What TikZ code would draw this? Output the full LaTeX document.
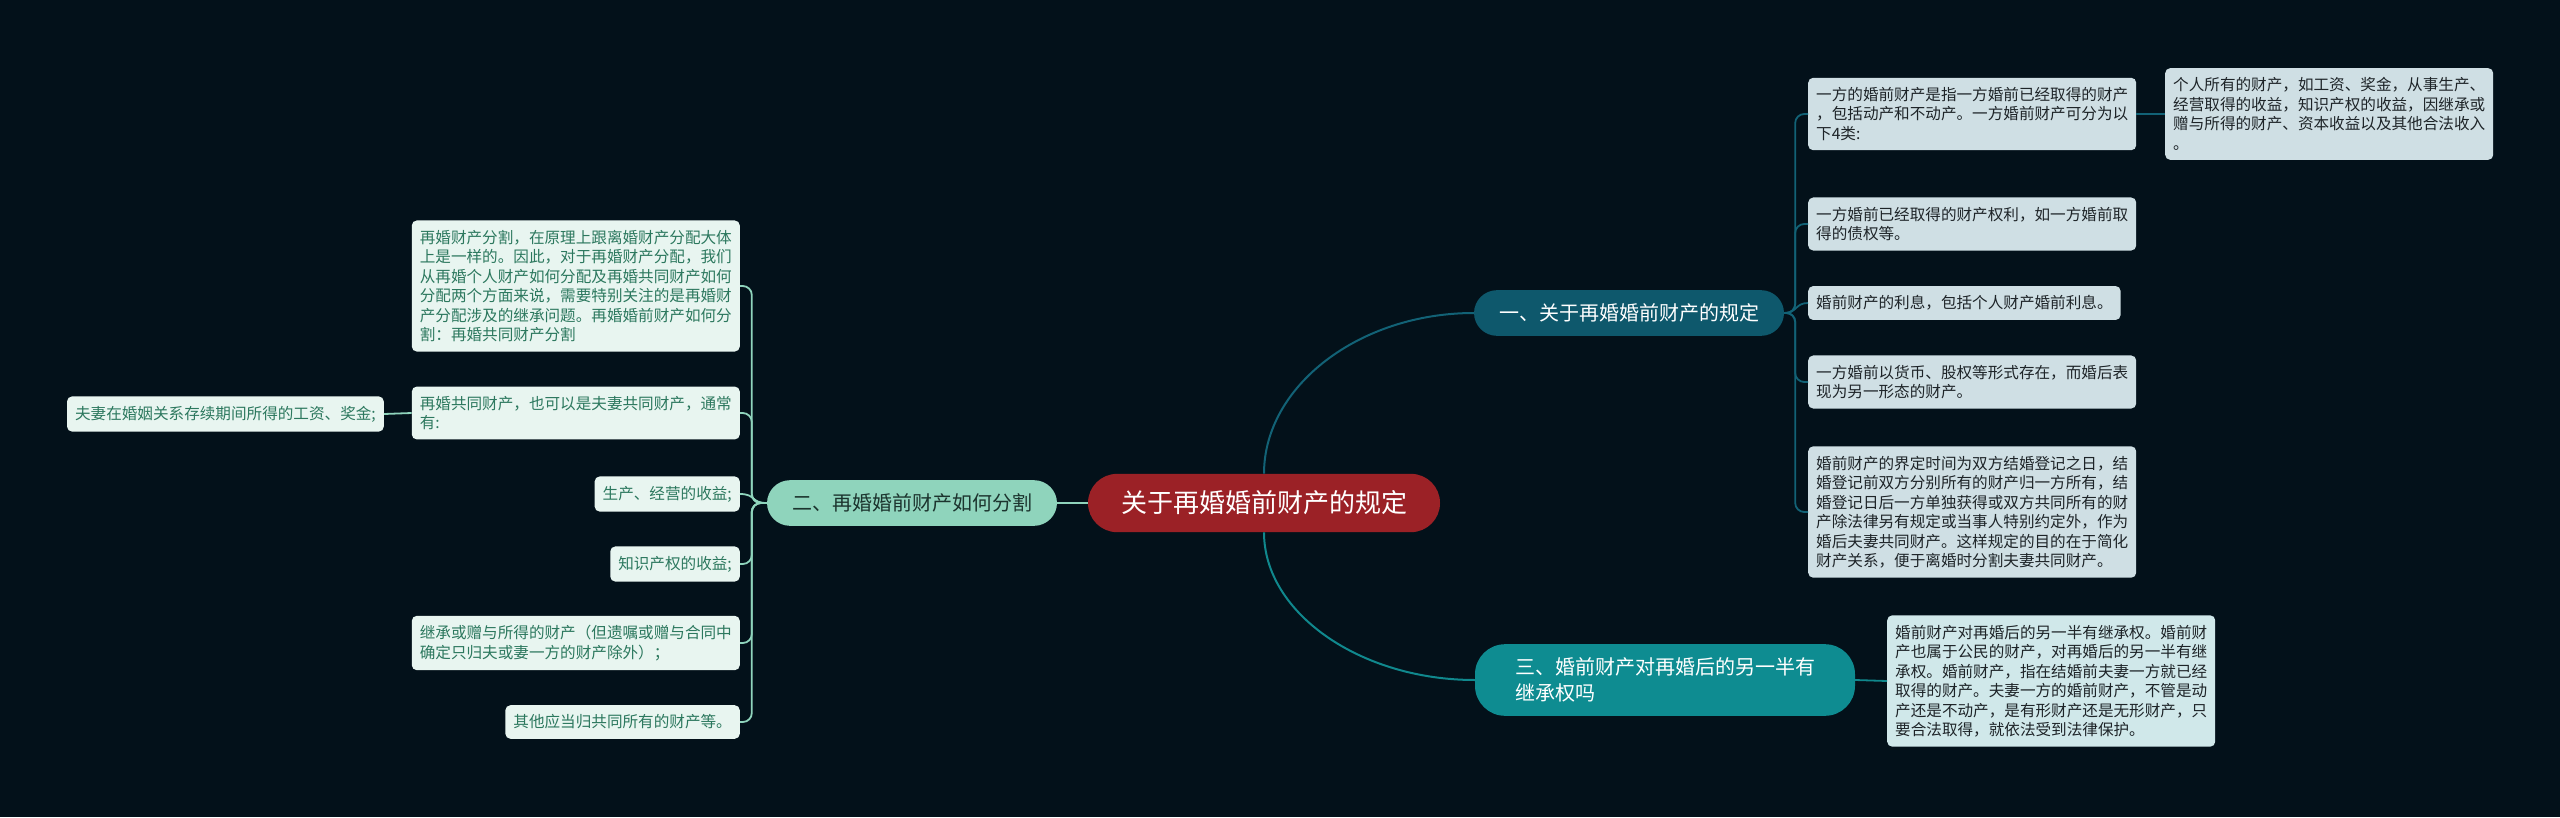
\documentclass[tikz,border=0pt]{standalone}
\usepackage{fontspec}
\newfontfamily\cjk{Noto Sans CJK SC}
\usepackage{tikz}
\usetikzlibrary{calc}
\definecolor{mapbg}{RGB}{3,17,26}
\definecolor{maproot}{RGB}{155,33,38}
\definecolor{topicone}{RGB}{14,88,108}
\definecolor{topictwo}{RGB}{143,212,188}
\definecolor{topictwotext}{RGB}{28,52,46}
\definecolor{topicthree}{RGB}{14,140,145}
\definecolor{leafblue}{RGB}{207,223,228}
\definecolor{leafcyan}{RGB}{208,232,234}
\definecolor{leafdark}{RGB}{30,36,40}
\definecolor{leafmint}{RGB}{232,245,240}
\definecolor{leafgreen}{RGB}{44,120,94}
\definecolor{lineone}{RGB}{18,98,118}
\definecolor{linethree}{RGB}{16,136,141}
\tikzset{
    rootnode/.style={rectangle, rounded corners=29pt, fill=maproot, text=white, font=\cjk\fontsize{26}{30}\selectfont, inner xsep=33pt, inner ysep=17pt},
    topic/.style={rectangle, rounded corners=23pt, font=\cjk\fontsize{20}{26}\selectfont, inner xsep=25pt, inner ysep=13.5pt, align=left},
    rightleaf/.style={rectangle, rounded corners=5pt, fill=leafblue, text=leafdark, font=\cjk\fontsize{15.6}{19.5}\selectfont, inner xsep=8pt, inner ysep=9.5pt, align=left, anchor=west},
    leftleaf/.style={rectangle, rounded corners=5pt, fill=leafmint, text=leafgreen, font=\cjk\fontsize{15.6}{19.5}\selectfont, inner xsep=8pt, inner ysep=9.5pt, align=left, anchor=east},
    link/.style={line width=2pt},
    leaflink/.style={line width=1.8pt, rounded corners=9pt}
}

\begin{document}
\begin{tikzpicture}[x=1pt, y=1pt]
    % Background
    \fill[mapbg] (0,0) rectangle (2560,-817);

    % Central topic
    \node[rootnode] (root) at (1264,-503) {关于再婚婚前财产的规定};

    % Main topics
    \node[topic, fill=topicone, text=white] (one) at (1629,-313) {一、关于再婚婚前财产的规定};
    \node[topic, fill=topictwo, text=topictwotext] (two) at (912,-503) {二、再婚婚前财产如何分割};
    \node[topic, fill=topicthree, text=white, rounded corners=30pt, inner xsep=40pt] (three) at (1665,-680) {三、婚前财产对再婚后的另一半有\\继承权吗};

    % Leaves of topic one
    \node[rightleaf] (onea) at (1808,-114) {一方的婚前财产是指一方婚前已经取得的财产\\，包括动产和不动产。一方婚前财产可分为以\\下4类:};
    \node[rightleaf] (oneaa) at (2165,-114) {个人所有的财产，如工资、奖金，从事生产、\\经营取得的收益，知识产权的收益，因继承或\\赠与所得的财产、资本收益以及其他合法收入\\。};
    \node[rightleaf] (oneb) at (1808,-224) {一方婚前已经取得的财产权利，如一方婚前取\\得的债权等。};
    \node[rightleaf] (onec) at (1808,-303) {婚前财产的利息，包括个人财产婚前利息。};
    \node[rightleaf] (oned) at (1808,-382) {一方婚前以货币、股权等形式存在，而婚后表\\现为另一形态的财产。};
    \node[rightleaf] (onee) at (1808,-512) {婚前财产的界定时间为双方结婚登记之日，结\\婚登记前双方分别所有的财产归一方所有，结\\婚登记日后一方单独获得或双方共同所有的财\\产除法律另有规定或当事人特别约定外，作为\\婚后夫妻共同财产。这样规定的目的在于简化\\财产关系，便于离婚时分割夫妻共同财产。};

    % Leaf of topic three
    \node[rightleaf, fill=leafcyan] (threea) at (1887,-681) {婚前财产对再婚后的另一半有继承权。婚前财\\产也属于公民的财产，对再婚后的另一半有继\\承权。婚前财产，指在结婚前夫妻一方就已经\\取得的财产。夫妻一方的婚前财产，不管是动\\产还是不动产，是有形财产还是无形财产，只\\要合法取得，就依法受到法律保护。};

    % Leaves of topic two
    \node[leftleaf] (twoa) at (740,-286) {再婚财产分割，在原理上跟离婚财产分配大体\\上是一样的。因此，对于再婚财产分配，我们\\从再婚个人财产如何分配及再婚共同财产如何\\分配两个方面来说，需要特别关注的是再婚财\\产分配涉及的继承问题。再婚婚前财产如何分\\割：再婚共同财产分割};
    \node[leftleaf] (twob) at (740,-413) {再婚共同财产，也可以是夫妻共同财产，通常\\有:};
    \node[leftleaf] (twoba) at (384,-414) {夫妻在婚姻关系存续期间所得的工资、奖金;};
    \node[leftleaf] (twoc) at (740,-494) {生产、经营的收益;};
    \node[leftleaf] (twod) at (740,-564) {知识产权的收益;};
    \node[leftleaf] (twoe) at (740,-643) {继承或赠与所得的财产（但遗嘱或赠与合同中\\确定只归夫或妻一方的财产除外）；};
    \node[leftleaf] (twof) at (740,-722) {其他应当归共同所有的财产等。};

    % Links from the centre
    \draw[link, lineone] (root.north) .. controls ($(root.north)+(0,88)$) and ($(one.west)+(-114,0)$) .. (one.west);
    \draw[link, linethree] (root.south) .. controls ($(root.south)+(0,-81)$) and ($(three.west)+(-114,0)$) .. (three.west);
    \draw[link, topictwo] (root.west) -- (two.east);

    % Links to the leaves
    \foreach \leaf in {onea,oneb,oned,onee}
        \draw[leaflink, lineone] (one.east) -- ++(11,0) |- (\leaf.west);
    \foreach \leaf in {twoa,twob,twod,twoe,twof}
        \draw[leaflink, topictwo] (two.west) -- ++(-15,0) |- (\leaf.east);
    \draw[leaflink, lineone] (one.east) .. controls ($(one.east)+(13,0)$) and ($(onec.west)+(-13,0)$) .. (onec.west);
    \draw[leaflink, topictwo] (two.west) .. controls ($(two.west)+(-16,0)$) and ($(twoc.east)+(16,0)$) .. (twoc.east);
    \draw[leaflink, lineone] (onea.east) -- (oneaa.west);
    \draw[leaflink, linethree] (three.east) -- (threea.west);
    \draw[leaflink, topictwo] (twob.west) -- (twoba.east);
\end{tikzpicture}
\end{document}
